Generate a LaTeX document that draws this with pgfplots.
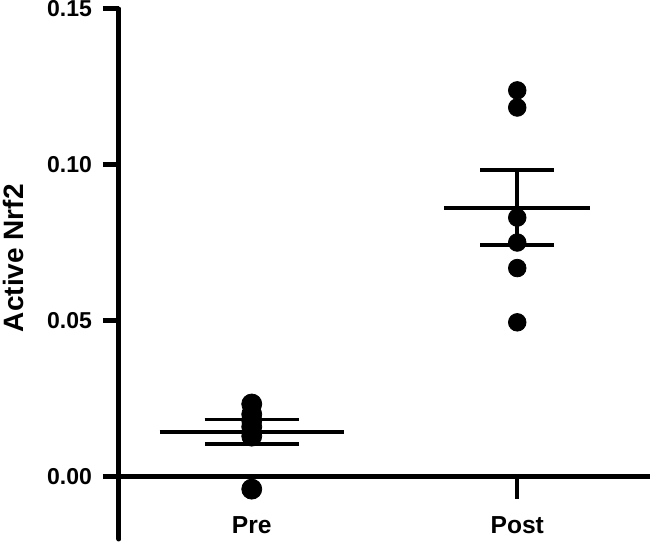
\documentclass[border=0pt]{standalone}
\usepackage{pgfplots}
\pgfplotsset{compat=1.18}
\usepackage{fontspec}
\setmainfont{Liberation Sans}

\begin{document}
\begin{tikzpicture}
\begin{axis}[
  scale only axis,
  width=265.5pt, height=265pt,
  xmin=0.5, xmax=2.5,
  ymin=-0.02, ymax=0.15,
  axis x line*=middle,
  axis y line*=left,
  axis line style={line width=2.5pt, line cap=round},
  xtick={1,2}, xticklabels={Pre,Post},
  ytick={0,0.05,0.10,0.15},
  /pgf/number format/assume math mode=true,
  xtick align=outside, ytick align=outside,
  xtick style={line width=2pt, black},
  ytick style={line width=2.5pt, black},
  major tick length=8pt,
  x tick style={/pgfplots/major tick length=11pt},
  ticklabel style={font=\bfseries\fontsize{11.5}{13}\selectfont, black},
  yticklabel style={xshift=-2pt, /pgf/number format/.cd, fixed, fixed zerofill, precision=2},
  xticklabel style={font=\bfseries\fontsize{12.3}{14}\selectfont, yshift=-8.5pt},
  ylabel={Active Nrf2},
  ylabel style={font=\bfseries\fontsize{14}{16}\selectfont, rotate=0,
    at={(axis description cs:-0.199,0.530)}, anchor=center},
  clip=false,
]
\coordinate (sw) at (rel axis cs:0,0);
\coordinate (ne) at (rel axis cs:1,1);
% mean lines
\addplot[black, line width=1.8pt] coordinates {(0.653,0.0144) (1.347,0.0144)};
\addplot[black, line width=1.8pt] coordinates {(1.725,0.0862) (2.275,0.0862)};
% SEM bars
\addplot[black, mark=none, line width=1.8pt,
  error bars/.cd, y dir=both, y explicit, error mark=-,
  error bar style={line width=1.8pt, black},
  error mark options={rotate=90, line width=1.8pt, black, mark size=23.5pt}]
  coordinates {(1,0.0144) +- (0,0.0039)};
\addplot[black, mark=none, line width=1.8pt,
  error bars/.cd, y dir=both, y explicit, error mark=-,
  error bar style={line width=1.8pt, black},
  error mark options={rotate=90, line width=1.8pt, black, mark size=18.5pt}]
  coordinates {(2,0.0863) +- (0,0.0120)};
% data points
\addplot[only marks, mark=*, mark size=5pt, black] coordinates {
  (1,0.0233) (1,0.0200) (1,0.0180) (1,0.0160) (1,0.0130) (1,-0.0040)};
\addplot[only marks, mark=*, mark size=4.4pt, black] coordinates {
  (2,0.1239) (2,0.1184) (2,0.0831) (2,0.0751) (2,0.0669) (2,0.0495)};
\end{axis}
\pgfresetboundingbox
\path ([xshift=-59.5pt,yshift=-1.5pt]sw) rectangle ([yshift=4.5pt]ne);
\end{tikzpicture}
\end{document}
